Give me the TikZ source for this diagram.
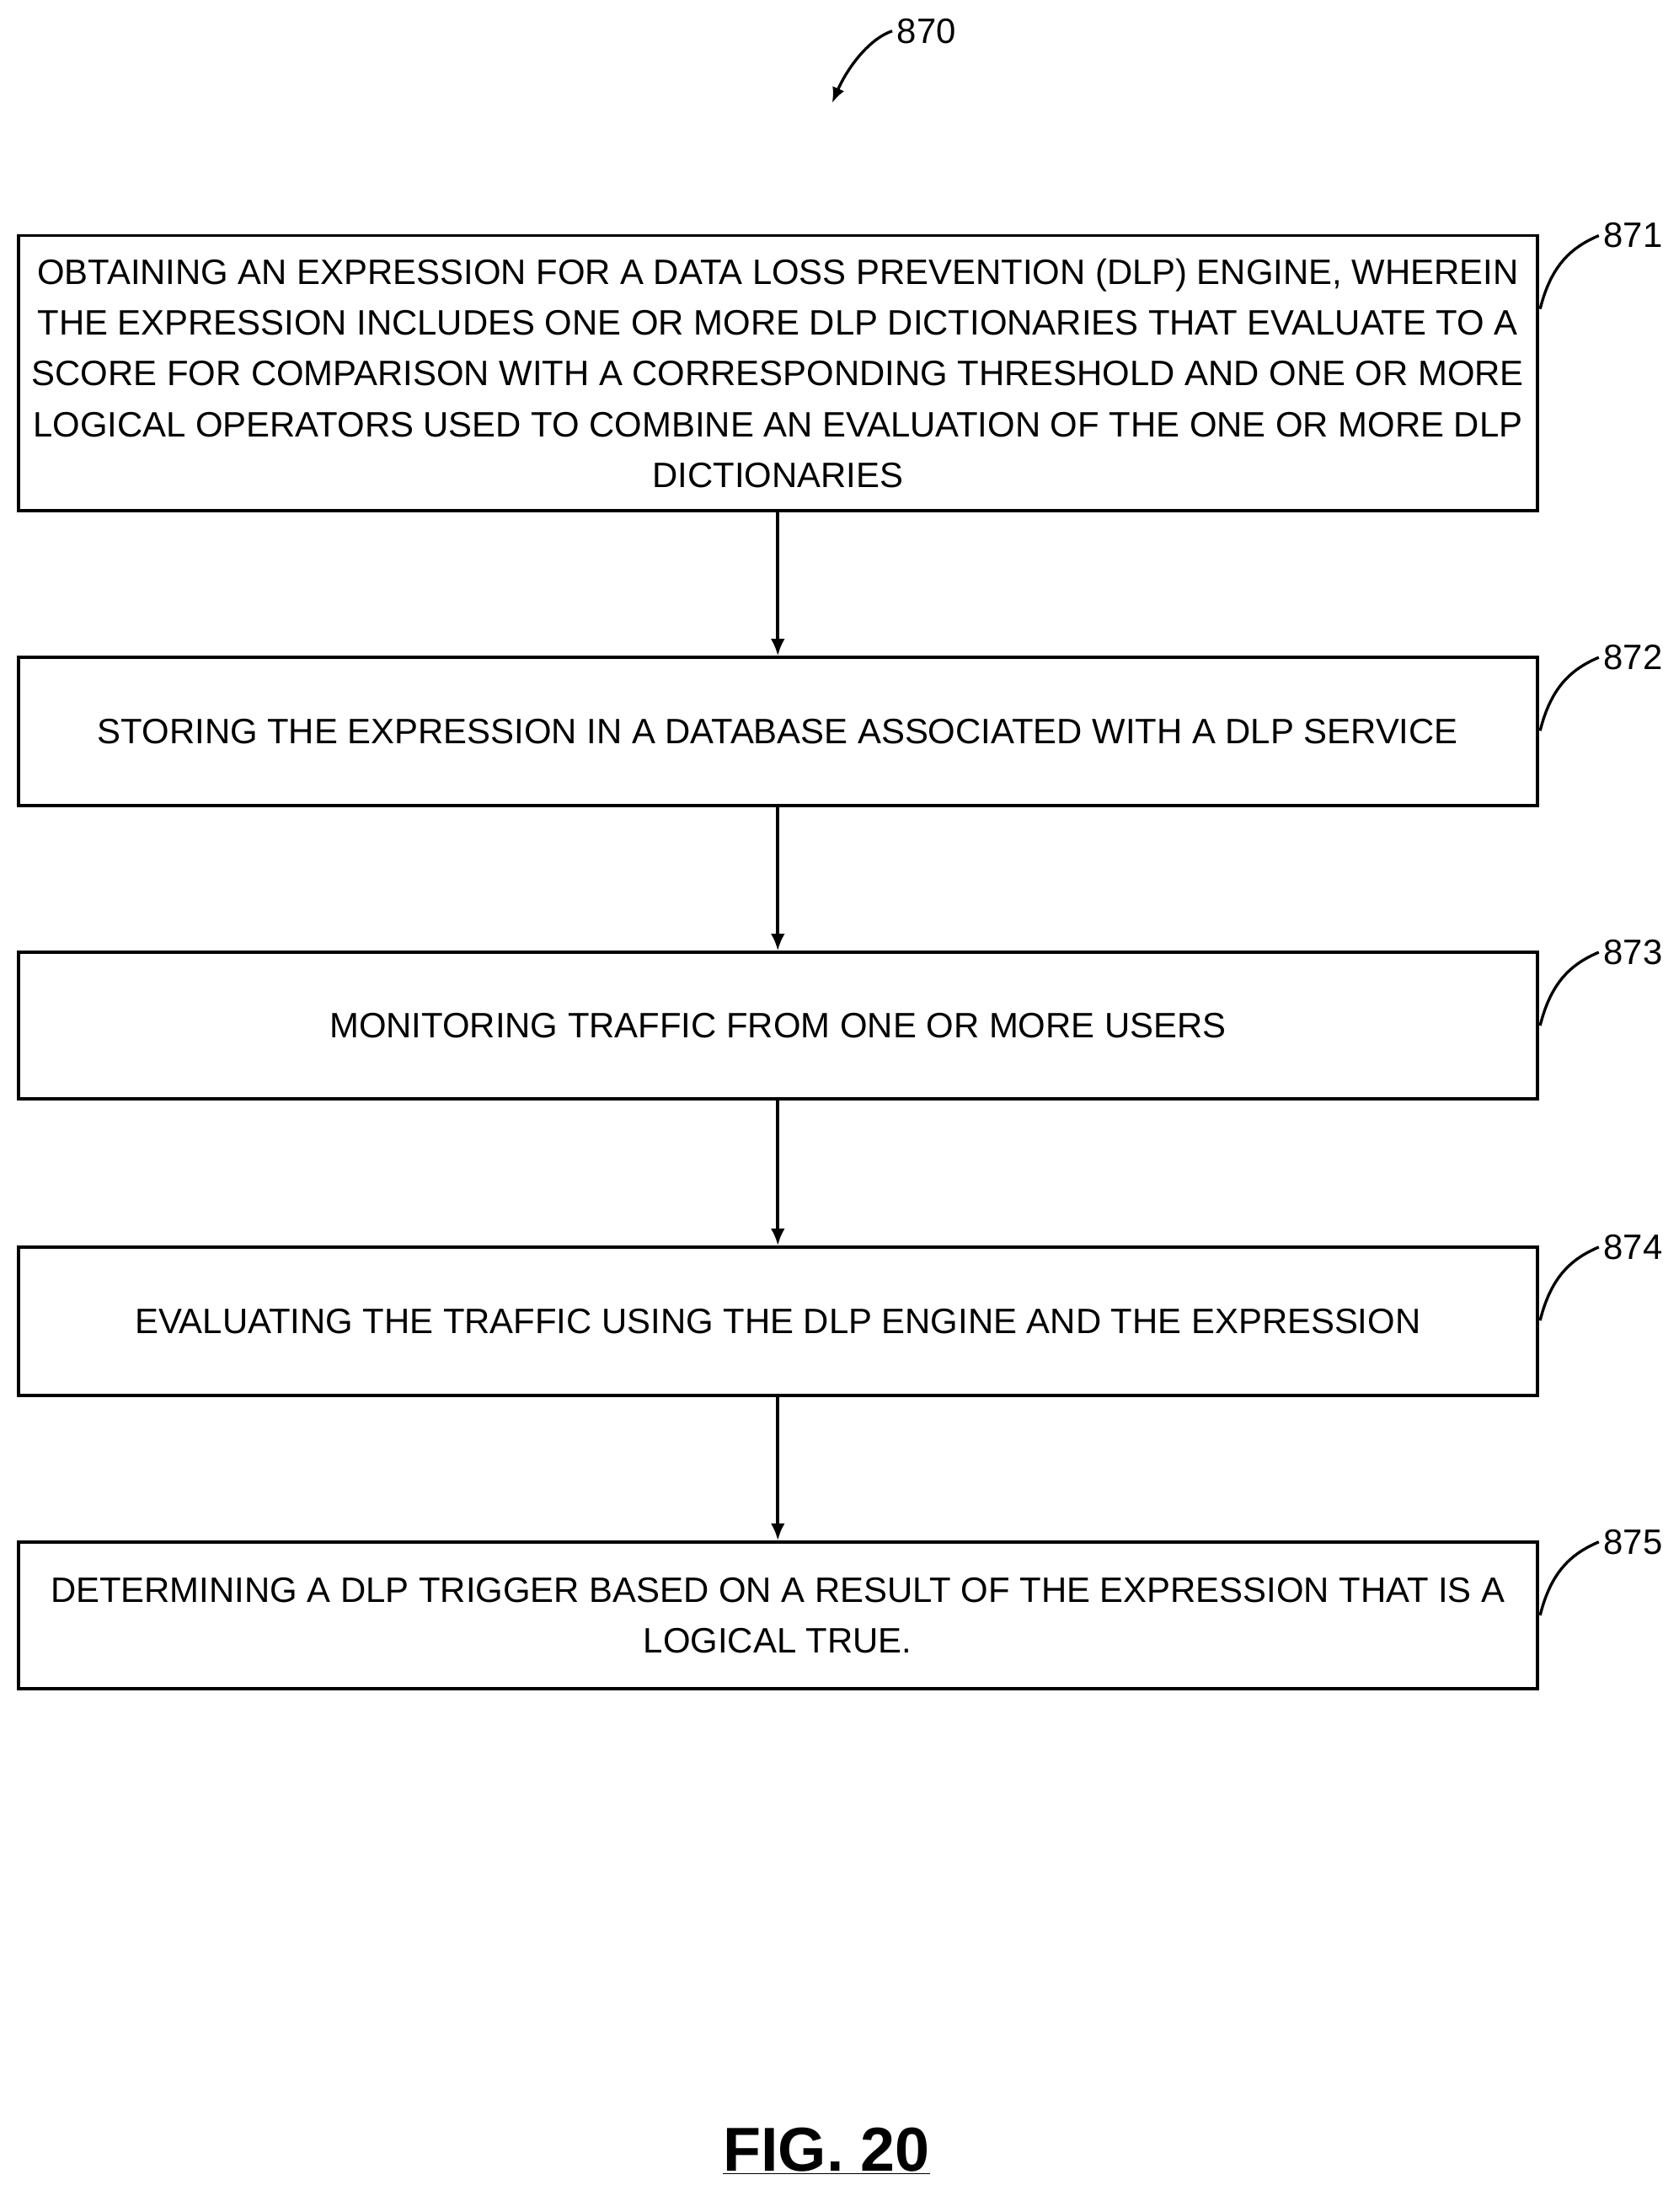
\documentclass[tikz,border=0pt]{standalone}
\usepackage{fontspec}
\setmainfont{Liberation Sans}
\usetikzlibrary{arrows.meta}
\begin{document}
\begin{tikzpicture}[x=1pt,y=-1pt,
 box/.style={draw,line width=2.2pt,minimum width=1077pt,align=center,font=\fontsize{25}{36}\selectfont,inner sep=0pt},
 lab/.style={font=\fontsize{25}{30}\selectfont},
 arr/.style={line width=2.2pt,-{Latex[length=12pt,width=10pt]}},
 hook/.style={line width=2pt}]
\useasboundingbox (0,0) rectangle (1190,1568);
\node[box,minimum height=195pt] (b1) at (551.5,264.5) {OBTAINING AN EXPRESSION FOR A DATA LOSS PREVENTION (DLP) ENGINE, WHEREIN\\THE EXPRESSION INCLUDES ONE OR MORE DLP DICTIONARIES THAT EVALUATE TO A\\SCORE FOR COMPARISON WITH A CORRESPONDING THRESHOLD AND ONE OR MORE\\LOGICAL OPERATORS USED TO COMBINE AN EVALUATION OF THE ONE OR MORE DLP\\DICTIONARIES};
\node[box,minimum height=105pt] (b2) at (551.5,518.5) {STORING THE EXPRESSION IN A DATABASE ASSOCIATED WITH A DLP SERVICE};
\node[box,minimum height=104pt] (b3) at (551.5,727) {MONITORING TRAFFIC FROM ONE OR MORE USERS};
\node[box,minimum height=105pt] (b4) at (551.5,936.5) {EVALUATING THE TRAFFIC USING THE DLP ENGINE AND THE EXPRESSION};
\node[box,minimum height=104pt] (b5) at (551.5,1145) {DETERMINING A DLP TRIGGER BASED ON A RESULT OF THE EXPRESSION THAT IS A\\LOGICAL TRUE.};
\foreach \a/\b in {b1/b2,b2/b3,b3/b4,b4/b5} \draw[arr] (\a) -- (\b);
\foreach \n/\y in {871/167,872/466,873/675,874/884,875/1093}{
 \node[lab] (l\n) at (1158,\y) {\n};
 \draw[hook] (1092,\y+52) .. controls (1100,\y+20) and (1115,\y+8) .. (l\n.west);
}
\node[lab] (l870) at (657,22) {870};
\coordinate (t870) at (590,73);
\draw[line width=2pt,-{Latex[length=11pt,width=9pt]}] (l870.west) .. controls (615,28) and (600,50) .. (t870);
\node[font=\bfseries\fontsize{44}{50}\selectfont] (fig) at (586,1525) {\underline{FIG. 20}};
\end{tikzpicture}
\end{document}
